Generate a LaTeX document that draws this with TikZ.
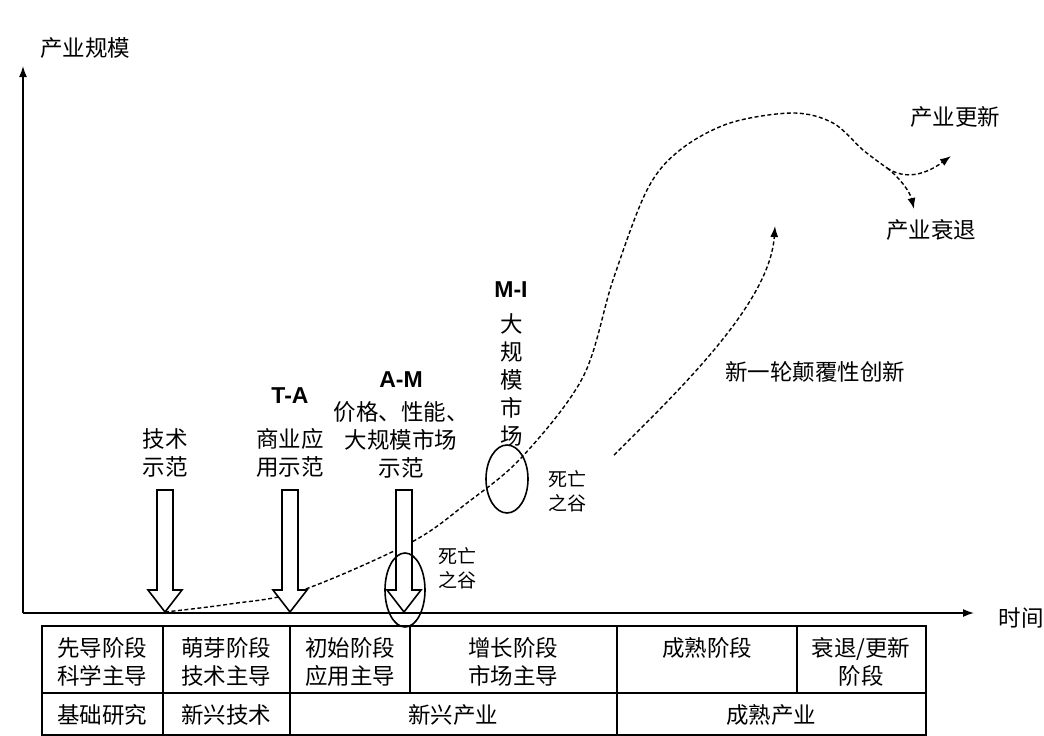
\documentclass[tikz,border=0pt]{standalone}
\usepackage{fontspec}
\newfontfamily\cjk{Noto Sans CJK SC}
\newfontfamily\lat{Liberation Sans}
\usetikzlibrary{arrows.meta,shapes.geometric}
\begin{document}
\begin{tikzpicture}[x=1pt,y=-1pt,
  txt/.style={font=\cjk\fontsize{22.5}{28}\selectfont, align=center, inner sep=0pt},
  small/.style={font=\cjk\fontsize{19}{24}\selectfont, align=center, inner sep=0pt},
  code/.style={font=\lat\bfseries\fontsize{23}{26}\selectfont, inner sep=0pt},
  axis/.style={line width=1.5pt, -{Latex[length=11pt,width=8pt]}},
  dashcurve/.style={line width=1.4pt, dash pattern=on 4pt off 2.5pt},
  dtip/.style={-{Latex[length=11pt,width=8pt]}},
  valley/.style={draw, ellipse, line width=1.6pt, inner sep=0pt},
  grid/.style={line width=1.6pt},
  blockarrow/.pic={\draw[line width=1.6pt, fill=white] (-8,0) -- (8,0) -- (8,100) -- (17,100) -- (0,122) -- (-17,100) -- (-8,100) -- cycle;}
]
\useasboundingbox (0,0) rectangle (1044,736);

% axes
\coordinate (O) at (23,613);
\coordinate (ytop) at (23,66);
\coordinate (xend) at (974,613);
\draw[axis] (O) -- (ytop);
\draw[axis] (O) -- (xend);
\node[txt] (ylab) at (85,48) {产业规模};
\node[txt] (xlab) at (1021,618) {时间};

% main curve
\coordinate (a1tip) at (165,612);
\coordinate (split) at (887,168);
\coordinate (renew) at (951,156);
\coordinate (decl) at (914,209);
\draw[dashcurve] plot[smooth, tension=0.55] coordinates {(a1tip) (230,604) (300,591) (410,543) (467,503) (522,457) (583,377) (613,280) (647,190) (680,150) (730,123) (793,113) (833,123) (863,150) (split)};
\draw[dashcurve, dtip] (split) .. controls (905,180) and (925,175) .. (renew);
\draw[dashcurve, dtip] (split) .. controls (900,178) and (910,192) .. (decl);

% second curve
\coordinate (n0) at (614,455);
\coordinate (n1) at (775,226);
\draw[dashcurve, dtip] (n0) .. controls (690,380) and (770,300) .. (n1);

% block arrows
\pic at (165,490) {blockarrow};
\pic at (290,490) {blockarrow};
\pic at (404,490) {blockarrow};

% valleys
\node[valley, minimum width=40pt, minimum height=74pt] (dv1) at (405,590) {};
\node[valley, minimum width=42pt, minimum height=68pt] (dv2) at (507,479) {};

% labels
\node[txt] (l1) at (165,453) {技术\\示范};
\node[code] (ta) at (290,396) {T-A};
\node[txt] (l2) at (290,453) {商业应\\用示范};
\node[code] (am) at (401,380) {A-M};
\node[txt] (l3) at (401,440) {价格、性能、\\大规模市场\\示范};
\node[code] (mi) at (511,290) {M-I};
\node[txt] (l4) at (512,380) {大\\规\\模\\市\\场};
\node[small] (d1) at (457,568) {死亡\\之谷};
\node[small] (d2) at (567,491) {死亡\\之谷};
\node[txt] (l5) at (815,372) {新一轮颠覆性创新};
\node[txt] (l6) at (955,117) {产业更新};
\node[txt] (l7) at (931,230) {产业衰退};

% table
\draw[grid] (42,626) rectangle (926,735);
\draw[grid] (42,693) -- (926,693);
\draw[grid] (163,626) -- (163,735);
\draw[grid] (290,626) -- (290,735);
\draw[grid] (410,626) -- (410,693);
\draw[grid] (617,626) -- (617,735);
\draw[grid] (797,626) -- (797,693);

\node[txt] (c1) at (102,662) {先导阶段\\科学主导};
\node[txt] (c2) at (226,662) {萌芽阶段\\技术主导};
\node[txt] (c3) at (350,662) {初始阶段\\应用主导};
\node[txt] (c4) at (513,662) {增长阶段\\市场主导};
\node[txt] (c5) at (707,648) {成熟阶段};
\node[txt] (c6) at (861,662) {衰退/更新\\阶段};
\node[txt] (r1) at (102,715) {基础研究};
\node[txt] (r2) at (226,715) {新兴技术};
\node[txt] (r3) at (453,715) {新兴产业};
\node[txt] (r4) at (771,715) {成熟产业};
\end{tikzpicture}
\end{document}
